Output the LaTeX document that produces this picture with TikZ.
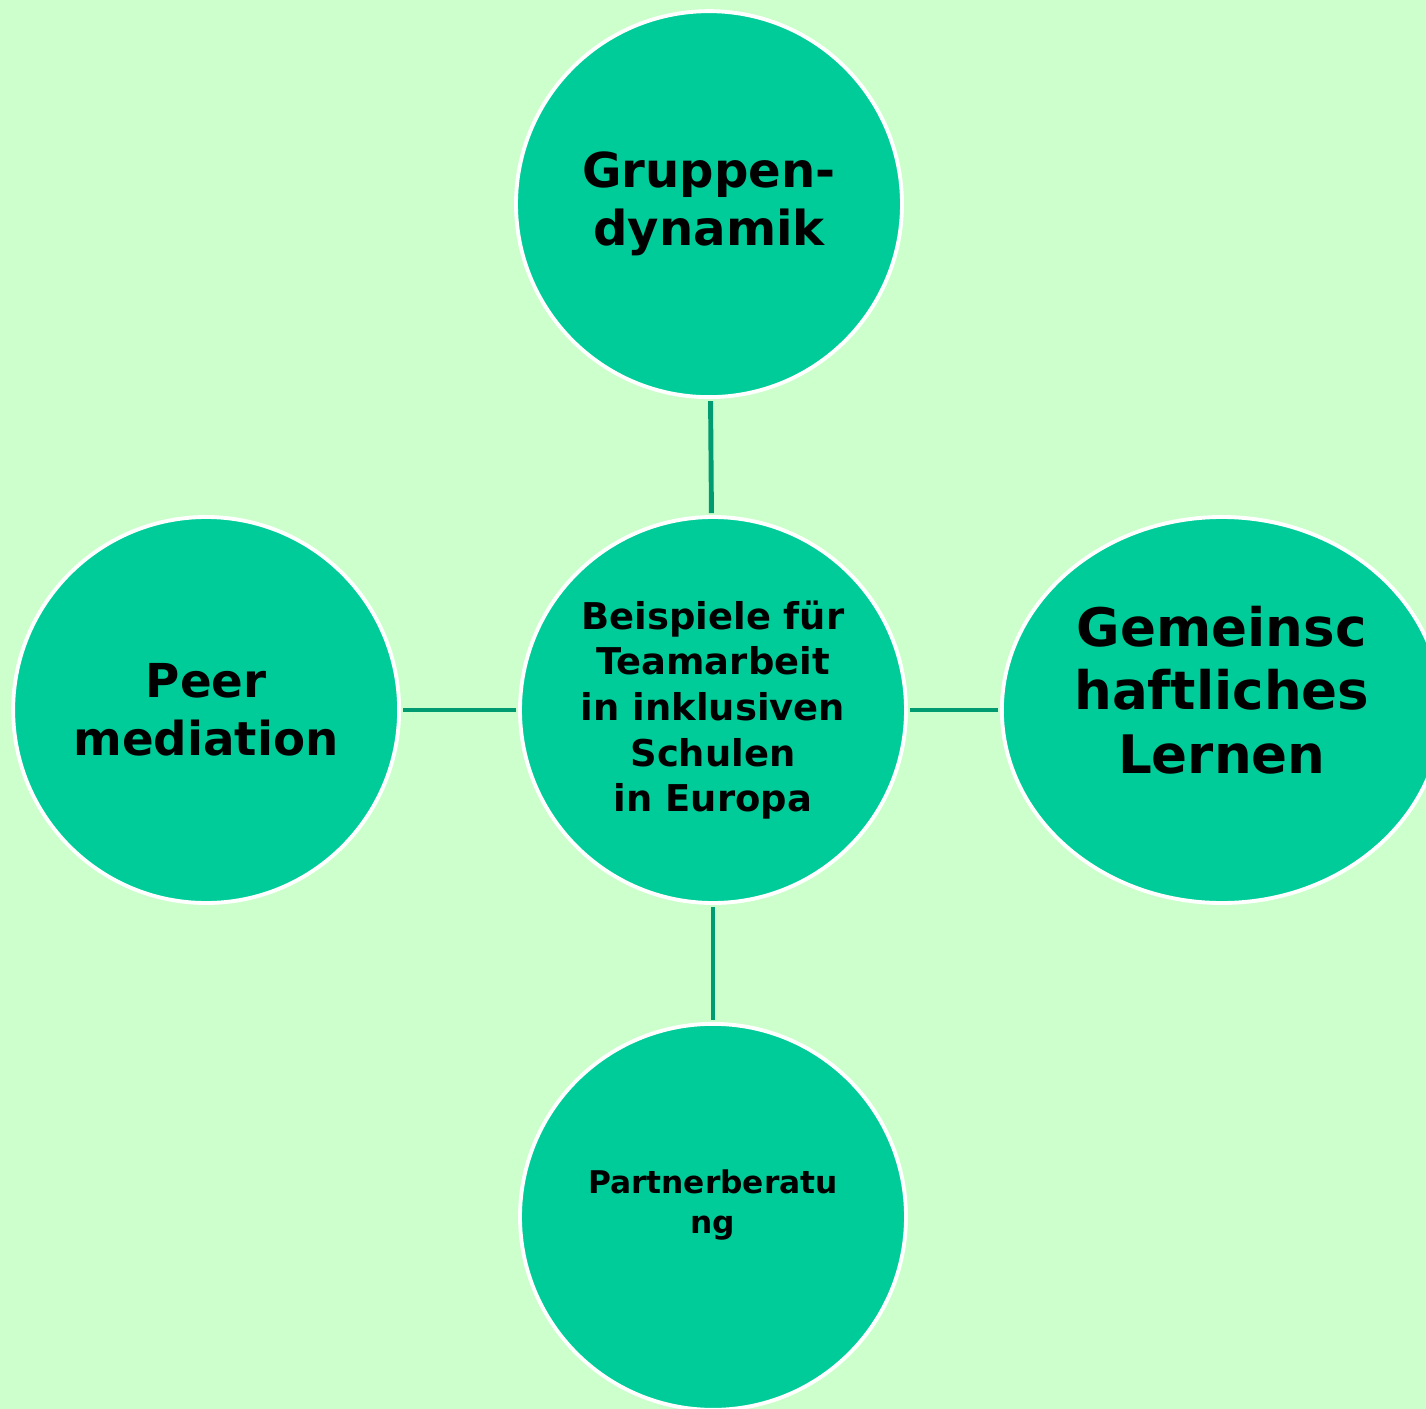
\documentclass[tikz,border=0pt]{standalone}
\usepackage{fontspec}
\setmainfont{DejaVu Sans}
\usepackage{xcolor}
\usetikzlibrary{shapes.geometric, positioning}
\definecolor{paper}{HTML}{CCFFCC}
\definecolor{bubblegreen}{HTML}{00CC99}
\definecolor{linkgreen}{HTML}{009B70}
\begin{document}
\begin{tikzpicture}[node distance=1.17cm]
\tikzstyle{bubble} = [circle, minimum size=3.86cm, inner sep=0pt, draw=white, line width=1.1pt, fill=bubblegreen, align=center]
\tikzstyle{oval} = [ellipse, minimum width=4.40cm, minimum height=3.86cm, inner sep=0pt, draw=white, line width=1.1pt, fill=bubblegreen, align=center]
\tikzstyle{caption} = [inner sep=0pt, align=center]
\tikzstyle{link} = [line width=1.4pt, draw=linkgreen, shorten >=0.02cm, shorten <=0.02cm]

\useasboundingbox (0,0) rectangle (14.26,-14.09);
\clip (0,0) rectangle (14.26,-14.09);
\fill [paper] (0,0) rectangle (14.26,-14.09);

\node (centre) [bubble, font=\bfseries\fontsize{10.5}{13}\selectfont] at (7.13,-7.10) {Beispiele für\\Teamarbeit\\in inklusiven\\Schulen\\in Europa};
\node (top) [bubble, above=1.16cm of centre, xshift=-0.04cm, font=\bfseries\fontsize{13.7}{16.5}\selectfont] {Gruppen-\\dynamik};
\node (left) [bubble, left=of centre, font=\bfseries\fontsize{13.3}{16.6}\selectfont] {Peer\\mediation};
\node (right) [oval, right=0.92cm of centre] {};
\node (bottom) [bubble, below=of centre] {};
\node (righttext) [caption, yshift=0.20cm, font=\bfseries\fontsize{15.1}{18}\selectfont] at (right) {Gemeinsc\\haftliches\\Lernen};
\node (bottomtext) [caption, yshift=0.12cm, font=\bfseries\fontsize{8.9}{11.4}\selectfont] at (bottom) {Partnerberatu\\ng};

\draw [link] (top) -- (centre);
\draw [link] (left) -- (centre);
\draw [link] (centre) -- (right);
\draw [link] (centre) -- (bottom);
\end{tikzpicture}
\end{document}
